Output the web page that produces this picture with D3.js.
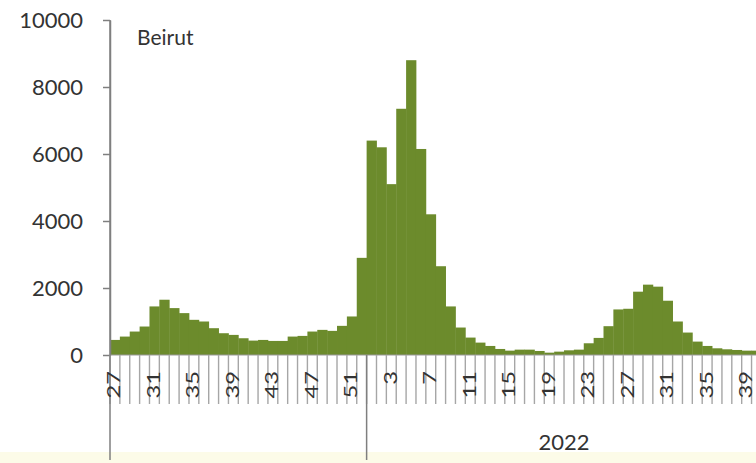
<!DOCTYPE html>
<html>
<head>
<meta charset="utf-8">
<script src="https://cdn.jsdelivr.net/npm/d3@7"></script>
<style>
  body { margin: 0; background: #fff; }
  text { font-family: Lato, "Open Sans", sans-serif; fill: #333; }
</style>
</head>
<body>
<div id="viz"></div>
<script>

var width = 756,
    height = 463,
    margin = {top: 20, left: 110, bottom: 108};

// weekly counts, Beirut
var weeks2021 = [27, 28, 29, 30, 31, 32, 33, 34, 35, 36, 37, 38, 39, 40, 41, 42, 43, 44, 45, 46, 47, 48, 49, 50, 51, 52];
var cases2021 = [450, 550, 700, 850, 1450, 1650, 1400, 1250, 1050, 1000, 800, 650, 600, 500, 430, 450, 420, 420, 550, 570, 700, 750, 720, 870, 1150, 2900];

var weeks2022 = [1, 2, 3, 4, 5, 6, 7, 8, 9, 10, 11, 12, 13, 14, 15, 16, 17, 18, 19, 20,
                 21, 22, 23, 24, 25, 26, 27, 28, 29, 30, 31, 32, 33, 34, 35, 36, 37, 38, 39, 40];
var cases2022 = [6400, 6200, 5100, 7350, 8800, 6150, 4200, 2650, 1450, 820, 520, 370, 270, 180, 130, 160, 160, 120, 70, 100,
                 140, 160, 350, 510, 860, 1360, 1380, 1890, 2100, 2040, 1620, 1000, 670, 400, 270, 200, 170, 150, 130, 130];

var yTicks = [0, 2000, 4000, 6000, 8000, 10000];
var yearLabels = ["2022"];

var data = [];
weeks2021.forEach(function(w, i) { data.push({key: "2021-" + w, year: 2021, week: w, value: cases2021[i]}); });
weeks2022.forEach(function(w, i) { data.push({key: "2022-" + w, year: 2022, week: w, value: cases2022[i]}); });

var bandW = 9.87;
var baseY = 355;

var x = d3.scaleBand()
  .domain(data.map(d => d.key))
  .range([margin.left, margin.left + data.length * bandW])
  .paddingInner(0).paddingOuter(0);

var y = d3.scaleLinear()
  .domain([0, 10000])
  .range([baseY, margin.top]);

var svg = d3.select('#viz').append('svg')
  .attr('width', width)
  .attr('height', height);

// faint yellow strip at the bottom of the scan
svg.append('rect')
  .attr('x', 0).attr('y', 452)
  .attr('width', width).attr('height', height - 452)
  .attr('fill', '#fcfbe8');

// bars
svg.append('g')
  .selectAll('rect')
  .data(data)
  .join('rect')
  .attr('x', d => x(d.key))
  .attr('y', d => y(d.value))
  .attr('width', x.bandwidth() + 0.4)
  .attr('height', d => y(0) - y(d.value))
  .attr('fill', '#6c8b2c');

// y axis
var yAxis = svg.append('g')
  .attr('transform', 'translate(' + margin.left + ',0)')
  .call(d3.axisLeft(y).tickValues(yTicks).tickFormat(d3.format('d'))
    .tickSize(7).tickSizeOuter(0).tickPadding(20));
yAxis.selectAll('line, path').attr('stroke', '#7f7f7f').attr('stroke-width', 1.5);
yAxis.selectAll('text')
  .style('font-size', '22px')
  .attr('fill', '#333');

// x axis line
svg.append('line')
  .attr('x1', margin.left).attr('x2', width)
  .attr('y1', baseY).attr('y2', baseY)
  .attr('stroke', '#9a9a9a').attr('stroke-width', 1.2);

// category separators
var bounds = data.map(d => x(d.key)).concat([x.range()[1]]);
svg.append('g')
  .selectAll('line')
  .data(bounds)
  .join('line')
  .attr('x1', d => d).attr('x2', d => d)
  .attr('y1', baseY).attr('y2', 404)
  .attr('stroke', '#a6a6a6').attr('stroke-width', 1.4);

// year separators
var yearStarts = [margin.left, x("2022-1")];
svg.append('g')
  .selectAll('line')
  .data(yearStarts)
  .join('line')
  .attr('x1', d => d).attr('x2', d => d)
  .attr('y1', d => d == margin.left ? margin.top : baseY)
  .attr('y2', 460)
  .attr('stroke', '#7f7f7f').attr('stroke-width', 1.5);

// week labels, every 4th week, rotated
svg.append('g')
  .selectAll('text')
  .data(data.filter((d, i) => i % 4 == 0))
  .join('text')
  .attr('transform', d => 'translate(' + (x(d.key) + x.bandwidth() / 2 + 5.5) + ',371) rotate(-90) scale(1.4,1)')
  .attr('text-anchor', 'end')
  .style('font-size', '17px')
  .text(d => d.week);

// year label
svg.append('text')
  .attr('x', (x("2022-1") + x.range()[1]) / 2)
  .attr('y', 450)
  .attr('text-anchor', 'middle')
  .style('font-size', '22px')
  .text(yearLabels[0]);

// title
svg.append('text')
  .attr('x', 137)
  .attr('y', 45)
  .style('font-size', '21px')
  .text('Beirut');

</script>
</body>
</html>
